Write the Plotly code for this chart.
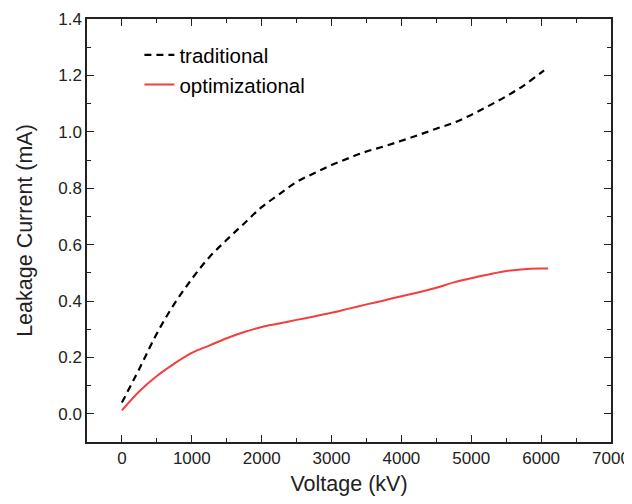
import plotly.graph_objects as go

voltage = [0, 250, 500, 750, 1000, 1250, 1500, 1750, 2000, 2250, 2500, 2750, 3000,
           3250, 3500, 3750, 4000, 4250, 4500, 4750, 5000, 5250, 5500, 5750, 6000, 6100]
traditional = [0.040, 0.160, 0.285, 0.390, 0.478, 0.555, 0.617, 0.675, 0.733, 0.778,
               0.822, 0.853, 0.882, 0.907, 0.930, 0.948, 0.968, 0.989, 1.011, 1.032,
               1.060, 1.092, 1.126, 1.164, 1.210, 1.230]
optimizational = [0.012, 0.080, 0.134, 0.178, 0.216, 0.242, 0.268, 0.290, 0.308, 0.320,
                  0.333, 0.345, 0.358, 0.373, 0.388, 0.402, 0.417, 0.431, 0.447, 0.466,
                  0.481, 0.494, 0.506, 0.513, 0.515, 0.515]

FONT = "Liberation Sans, Arial, sans-serif"
AX = "#222222"

fig = go.Figure()
fig.add_trace(go.Scatter(x=voltage, y=traditional, mode="lines", name="traditional",
                         line=dict(color="black", width=2.2, dash="7px,5px", shape="spline")))
fig.add_trace(go.Scatter(x=voltage, y=optimizational, mode="lines", name="optimizational",
                         line=dict(color="#f53d3d", width=2, shape="spline")))

axis_common = dict(
    showline=True, linecolor=AX, linewidth=1.5, mirror="allticks",
    ticks="inside", ticklen=7, tickwidth=1.3, tickcolor=AX,
    showgrid=False, zeroline=False, automargin=False,
    tickfont=dict(family=FONT, size=17, color=AX),
)

fig.update_layout(
    width=624, height=488,
    margin=dict(l=79, r=21, t=11, b=54),
    paper_bgcolor="white", plot_bgcolor="white",
    showlegend=True,
    legend=dict(x=0.1, y=0.962, xanchor="left", yanchor="top",
                bgcolor="rgba(0,0,0,0)", borderwidth=0,
                font=dict(family=FONT, size=20.5, color="black"),
                tracegroupgap=0),
    xaxis=dict(range=[-500, 7000], tickvals=[0, 1000, 2000, 3000, 4000, 5000, 6000, 7000],
               minor=dict(ticks="inside", ticklen=4, tickcolor=AX, dtick=500, tick0=0),
               title=dict(text="Voltage (kV)", font=dict(family=FONT, size=21.5, color=AX), standoff=13),
               **axis_common),
    yaxis=dict(range=[-0.1, 1.4], tickvals=[0, 0.2, 0.4, 0.6, 0.8, 1.0, 1.2, 1.4],
               tickformat=".1f",
               minor=dict(ticks="inside", ticklen=4, tickcolor=AX, dtick=0.1, tick0=0),
               title=dict(text="Leakage Current (mA)", font=dict(family=FONT, size=21.5, color=AX), standoff=20),
               **axis_common),
)

fig.write_html("out.html")
